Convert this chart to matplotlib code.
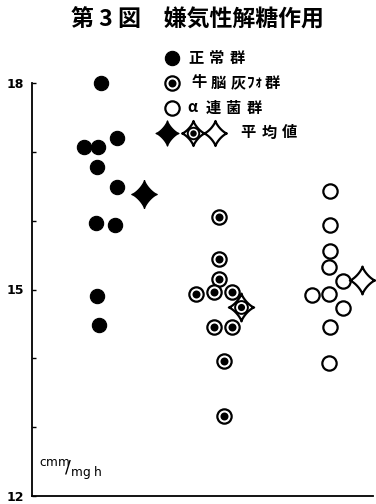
import numpy as np
import matplotlib
matplotlib.use("Agg")
import matplotlib.pyplot as plt
from matplotlib.path import Path

plt.rcParams['font.family'] = ['Noto Sans CJK JP', 'DejaVu Sans']

# ---- data ----
groups = ["正常群", "牛脳灰ﾌｫ群", "α連菌群"]
group_centers = [1.0, 2.0, 3.0]

normal_offsets = [0.017, -0.13, -0.009, 0.157, -0.017, 0.157, -0.026, 0.139, -0.017, 0.0]
normal_values = [18.0, 17.07, 17.07, 17.2, 16.78, 16.49, 15.97, 15.94, 14.9, 14.48]

brain_offsets = [0.046, 0.041, 0.046, -0.157, 0.003, 0.157, 0.0, 0.154, 0.084, 0.09]
brain_values = [16.05, 15.45, 15.15, 14.94, 14.96, 14.96, 14.45, 14.45, 13.96, 13.16]

strep_offsets = [0.011, 0.009, 0.009, -0.003, 0.119, -0.15, 0.0, 0.122, 0.009, 0.0]
strep_values = [16.43, 15.93, 15.56, 15.33, 15.13, 14.92, 14.94, 14.73, 14.45, 13.93]

mean_offsets = [0.39, 0.232, 0.29]
mean_values = [16.39, 14.75, 15.14]

y_ticks = [12, 13, 14, 15, 16, 17, 18]
y_ticklabels = ["12", "", "", "15", "", "", "18"]

title = "第 3 図　嫌気性解糖作用"
legend_labels = ["正常群", "牛脳灰ﾌｫ群", "α連菌群", "平均値"]
unit_label = r"$^{\mathrm{cmm}}\!\!/_{\mathrm{mg\ h}}$"

# ---- marker shape: concave four-pointed star ----
t = np.linspace(0, 2 * np.pi, 161)
p = 2.6
sx = np.sign(np.cos(t)) * np.abs(np.cos(t)) ** p
sy = 1.1 * np.sign(np.sin(t)) * np.abs(np.sin(t)) ** p
star = Path(np.column_stack([sx, sy]), closed=True)

fig = plt.figure(figsize=(3.76, 5.04), dpi=100)
ax = fig.add_axes([32 / 376, 1 - 496 / 504, 341 / 376, (496 - 83) / 504])
ax.set_xlim(0.417, 0.417 + 341 / 115)
ax.set_ylim(12, 18)

ms_c = 10.3


def _kw(transform, z):
    kw = dict(clip_on=False, zorder=z, ls='none')
    if transform is not None:
        kw['transform'] = transform
    return kw


def draw_filled(ax, x, y, transform=None):
    ax.plot(x, y, 'o', ms=ms_c, mfc='black', mec='black', mew=0.8, **_kw(transform, 3))


def draw_ringed(ax, x, y, transform=None, ms=ms_c, z=3, mew=1.6):
    ax.plot(x, y, 'o', ms=ms, mfc='white', mec='black', mew=mew, **_kw(transform, z))
    ax.plot(x, y, 'o', ms=ms * 0.56, mfc='black', mec='black', mew=0, **_kw(transform, z))


def draw_open(ax, x, y, transform=None):
    ax.plot(x, y, 'o', ms=ms_c, mfc='white', mec='black', mew=1.6, **_kw(transform, 3))


def draw_star(ax, x, y, kind, transform=None, ms=20):
    if kind == 0:
        ax.plot(x, y, marker=star, ms=ms, mfc='black', mec='black', mew=1, **_kw(transform, 4))
    else:
        ax.plot(x, y, marker=star, ms=ms, mfc='white', mec='black', mew=1.6, **_kw(transform, 4))
        if kind == 1:
            draw_ringed(ax, x, y, transform=transform, ms=ms * 0.46, z=4, mew=1.4)


c = group_centers
draw_filled(ax, [c[0] + o for o in normal_offsets], normal_values)
draw_ringed(ax, [c[1] + o for o in brain_offsets], brain_values)
draw_open(ax, [c[2] + o for o in strep_offsets], strep_values)
for i in range(3):
    draw_star(ax, [c[i] + mean_offsets[i]], [mean_values[i]], i)

# axes styling
for s in ['top', 'right']:
    ax.spines[s].set_visible(False)
ax.spines['left'].set_linewidth(1.3)
ax.spines['bottom'].set_linewidth(1.3)
ax.set_xticks([])
ax.set_yticks(y_ticks)
ax.set_yticklabels(y_ticklabels, fontsize=9, fontweight='bold', family='DejaVu Sans')
ax.tick_params(axis='y', direction='in', length=3, width=1, pad=6)

ax.text(0.02, 0.035, unit_label, transform=ax.transAxes, fontsize=12.5,
        family='DejaVu Serif', ha='left', va='bottom')

# title
fig.text(197 / 376, 1 - 20 / 504, title, ha='center', va='center',
         fontsize=16.5, fontweight='bold')

# legend (manual)
ft = fig.transFigure
ys = [1 - v / 504 for v in (58, 83, 108, 133)]
xm = 172 / 376
draw_filled(ax, [xm], [ys[0]], transform=ft)
draw_ringed(ax, [xm], [ys[1]], transform=ft)
draw_open(ax, [xm], [ys[2]], transform=ft)
for i, xs in enumerate((167, 193, 215)):
    draw_star(ax, [xs / 376], [ys[3]], i, transform=ft, ms=18)

# character centres (pixels) for the spaced-out legend labels
char_x = [
    [196, 216, 237],
    [199, 218, 238, 251, 259, 272],
    [192, 213, 233, 254],
    [248, 269, 290],
]
for label, xs, yv in zip(legend_labels, char_x, ys):
    for ch, xc in zip(label, xs):
        fig.text(xc / 376, yv + 2 / 504, ch, ha='center', va='center_baseline',
                 fontsize=11, fontweight='bold')

fig.savefig("out.png", dpi=100)
